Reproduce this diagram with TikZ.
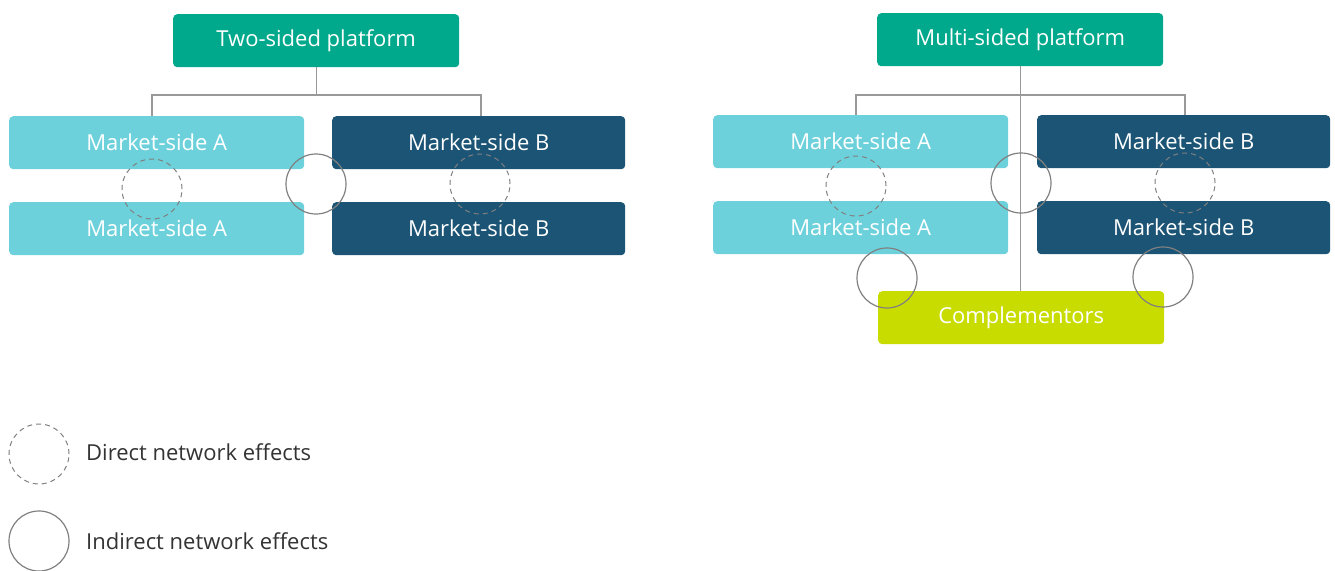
\documentclass[tikz,border=0pt]{standalone}
\usepackage{fontspec}
\setmainfont{Open Sans}
\usetikzlibrary{positioning}
\definecolor{platgreen}{HTML}{00A88C}
\definecolor{sideA}{HTML}{6DD1DC}
\definecolor{sideB}{HTML}{1B5474}
\definecolor{compl}{HTML}{C9DC00}
\definecolor{ringgray}{HTML}{808080}
\definecolor{linegray}{HTML}{999999}
\definecolor{legendtext}{HTML}{333333}
\tikzset{
  box/.style={rounded corners=4pt, minimum height=53pt, inner sep=0pt,
    text=white, font=\fontsize{22}{26}\selectfont, anchor=north west},
  platbox/.style={box, fill=platgreen, minimum width=286pt},
  abox/.style={box, fill=sideA, minimum width=295pt},
  bbox/.style={box, fill=sideB, minimum width=293pt},
  cbox/.style={box, fill=compl, minimum width=286pt},
  link/.style={draw=linegray, line width=1.3pt},
  direct/.style={circle, draw=ringgray, line width=1pt, dash pattern=on 5pt off 4pt,
    minimum size=60pt, inner sep=0pt},
  indirect/.style={circle, draw=ringgray, line width=1.2pt, minimum size=60pt, inner sep=0pt},
  legendlabel/.style={anchor=west, text=legendtext, font=\fontsize{22}{26}\selectfont, inner sep=0pt}
}
\begin{document}
\begin{tikzpicture}[x=1pt,y=-1pt]
\useasboundingbox (0,0) rectangle (1335,570);

% two-sided platform
\node[platbox] (two) at (173,14) {Two-sided platform};
\node[abox] (a1) at (9,116) {Market-side A};
\node[abox] (a2) at (9,202) {Market-side A};
\node[bbox] (b1) at (332,116) {Market-side B};
\node[bbox] (b2) at (332,202) {Market-side B};
\coordinate (twoj) at (two.south |- 0,95);
\draw[link] (two.south) -- (twoj);
\draw[link] (a1.north -| 152,0) |- (twoj) -| (b1.north -| 481,0);

% multi-sided platform
\node[platbox] (multi) at (877,13) {Multi-sided platform};
\node[abox] (ma1) at (713,115) {Market-side A};
\node[abox] (ma2) at (713,201) {Market-side A};
\node[bbox] (mb1) at (1037,115) {Market-side B};
\node[bbox] (mb2) at (1037,201) {Market-side B};
\node[cbox] (comp) at (878,291) {Complementors};
\coordinate (multij) at (multi.south |- 0,95);
\draw[link] (multi.south) -- (multi.south |- comp.north);
\draw[link] (ma1.north -| 856,0) |- (multij) -| (mb1.north -| 1185,0);

% network-effect rings
\node[direct] (d1) at (152,189) {};
\node[indirect] (i1) at (316,184) {};
\node[direct] (d2) at (480,184) {};
\node[direct] (d3) at (856,186) {};
\node[indirect] (i2) at (1021,183) {};
\node[direct] (d4) at (1185,183) {};
\node[indirect] (i3) at (887,278) {};
\node[indirect] (i4) at (1163,277) {};

% legend
\node[direct] (ld) at (39,454) {};
\node[legendlabel] (ldt) at (86,452) {Direct network effects};
\node[indirect] (li) at (39,541) {};
\node[legendlabel] (lit) at (86,541) {Indirect network effects};
\end{tikzpicture}
\end{document}
